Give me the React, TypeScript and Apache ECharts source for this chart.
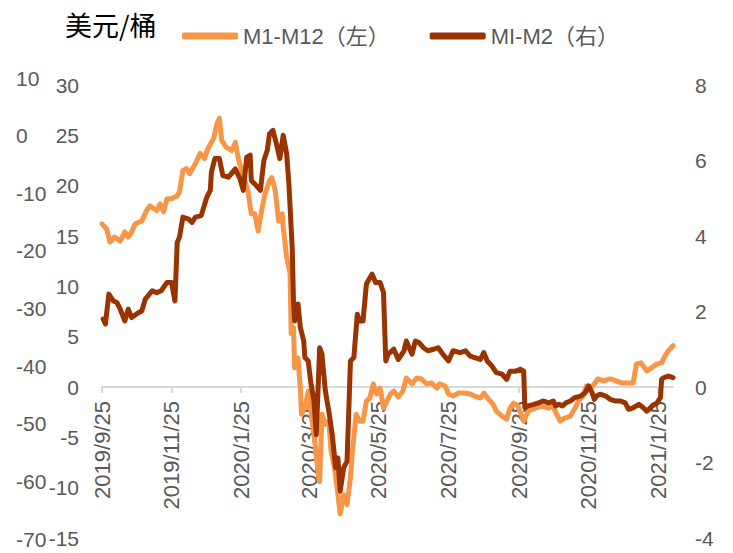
import React, { useEffect, useRef } from "react";
import * as echarts from "echarts";

const START_DATE = "2019-09-25";
const END_DATE = "2021-02-07";
const tickLabels = ["2019/9/25", "2019/11/25", "2020/1/25", "2020/3/25", "2020/5/25", "2020/7/25", "2020/9/25", "2020/11/25", "2021/1/25"];

const m1m12Dates = [
  "2019-09-25","2019-09-29","2019-10-02","2019-10-06","2019-10-11","2019-10-15","2019-10-18","2019-10-21","2019-10-24","2019-10-30",
  "2019-11-03","2019-11-06","2019-11-12","2019-11-15","2019-11-18","2019-11-21","2019-11-25","2019-11-30","2019-12-02","2019-12-05",
  "2019-12-08","2019-12-11","2019-12-16","2019-12-20","2019-12-24","2019-12-27","2020-01-01","2020-01-04","2020-01-06","2020-01-08",
  "2020-01-12","2020-01-17","2020-01-20","2020-01-23","2020-01-27","2020-01-31","2020-02-03","2020-02-06","2020-02-09","2020-02-12",
  "2020-02-15","2020-02-19","2020-02-21","2020-02-24","2020-02-27","2020-03-01","2020-03-02","2020-03-05","2020-03-08","2020-03-09",
  "2020-03-11","2020-03-12","2020-03-15","2020-03-17","2020-03-18","2020-03-21","2020-03-24","2020-03-27","2020-03-30","2020-04-02",
  "2020-04-03","2020-04-05","2020-04-08","2020-04-11","2020-04-13","2020-04-16","2020-04-19","2020-04-21","2020-04-24","2020-04-27",
  "2020-04-30","2020-05-02","2020-05-05","2020-05-08","2020-05-11","2020-05-14","2020-05-17","2020-05-20","2020-05-23","2020-05-26",
  "2020-05-29","2020-06-01","2020-06-04","2020-06-07","2020-06-11","2020-06-15","2020-06-18","2020-06-23","2020-06-27","2020-07-01",
  "2020-07-06","2020-07-10","2020-07-15","2020-07-17","2020-07-22","2020-07-25","2020-07-29","2020-08-03","2020-08-08","2020-08-13",
  "2020-08-17","2020-08-22","2020-08-25","2020-08-29","2020-09-02","2020-09-05","2020-09-10","2020-09-14","2020-09-17","2020-09-20",
  "2020-09-24","2020-09-29","2020-10-03","2020-10-09","2020-10-15","2020-10-21","2020-10-23","2020-10-28","2020-10-31","2020-11-04",
  "2020-11-09","2020-11-13","2020-11-16","2020-11-20","2020-11-23","2020-11-26","2020-11-30","2020-12-03","2020-12-08","2020-12-14",
  "2020-12-19","2020-12-24","2020-12-30","2021-01-03","2021-01-06","2021-01-10","2021-01-15","2021-01-19","2021-01-24","2021-01-28",
  "2021-01-31","2021-02-03","2021-02-07"
];
const m1m12Values = [
  16.2,15.7,14.4,14.9,14.5,15.4,14.9,15.4,16.2,16.5,
  17.5,18.0,17.5,18.2,17.4,18.7,18.7,19.0,19.4,21.5,
  21.7,21.2,22.2,23.2,22.7,23.7,24.7,26.2,26.7,24.5,
  23.8,23.5,24.3,22.5,21.0,19.5,17.2,17.2,15.5,17.5,
  19.2,20.5,20.8,19.5,16.5,17.2,15.9,12.9,11.3,5.3,
  5.9,1.9,2.9,-0.1,-2.7,-2.1,-0.4,-3.1,-5.7,-9.0,
  -9.4,-2.7,-3.7,-3.4,-6.4,-8.0,-10.7,-12.6,-10.7,-11.7,
  -9.0,-6.0,-2.7,-3.4,-3.4,-1.4,-1.1,0.3,-0.7,-0.1,
  -2.1,-1.4,-0.7,-0.4,-1.0,-0.4,0.9,0.3,0.9,0.8,
  0.3,0.4,-0.1,0.3,0.1,-0.7,-0.9,-0.6,-0.6,-0.7,
  -0.9,-1.1,-0.6,-1.2,-1.7,-2.4,-2.9,-3.2,-2.1,-1.6,
  -1.9,-3.4,-2.4,-2.1,-1.9,-2.1,-1.6,-2.7,-3.4,-3.1,
  -2.9,-2.1,-1.4,-0.9,0.1,-0.2,0.3,0.8,0.6,0.8,
  0.6,0.4,0.4,0.4,2.3,2.4,1.6,1.9,2.3,2.4,
  3.1,3.6,4.1
];

const mim2Dates = [
  "2019-09-26","2019-09-28","2019-10-01","2019-10-05","2019-10-08","2019-10-11","2019-10-15","2019-10-18","2019-10-21","2019-10-25",
  "2019-10-30","2019-11-02","2019-11-08","2019-11-12","2019-11-16","2019-11-21","2019-11-25","2019-11-28","2019-11-30","2019-12-02",
  "2019-12-05","2019-12-10","2019-12-13","2019-12-16","2019-12-21","2019-12-26","2019-12-29","2019-12-30","2020-01-02","2020-01-06",
  "2020-01-09","2020-01-14","2020-01-20","2020-01-24","2020-01-27","2020-01-30","2020-02-02","2020-02-03","2020-02-06","2020-02-11",
  "2020-02-14","2020-02-17","2020-02-19","2020-02-22","2020-02-25","2020-02-28","2020-03-02","2020-03-05","2020-03-07","2020-03-10",
  "2020-03-11","2020-03-12","2020-03-15","2020-03-17","2020-03-20","2020-03-21","2020-03-24","2020-03-26","2020-03-29","2020-03-31",
  "2020-04-03","2020-04-05","2020-04-08","2020-04-11","2020-04-14","2020-04-17","2020-04-19","2020-04-21","2020-04-24","2020-04-27",
  "2020-04-30","2020-05-03","2020-05-06","2020-05-08","2020-05-11","2020-05-14","2020-05-19","2020-05-22","2020-05-26","2020-05-29",
  "2020-05-31","2020-06-02","2020-06-07","2020-06-11","2020-06-16","2020-06-18","2020-06-23","2020-06-26","2020-06-29","2020-07-03",
  "2020-07-07","2020-07-12","2020-07-16","2020-07-20","2020-07-25","2020-07-29","2020-08-04","2020-08-09","2020-08-13","2020-08-17",
  "2020-08-22","2020-08-25","2020-08-28","2020-09-01","2020-09-05","2020-09-10","2020-09-14","2020-09-17","2020-09-22","2020-09-26",
  "2020-09-29","2020-09-30","2020-10-03","2020-10-08","2020-10-12","2020-10-16","2020-10-21","2020-10-25","2020-10-27","2020-10-30",
  "2020-11-02","2020-11-05","2020-11-09","2020-11-13","2020-11-18","2020-11-22","2020-11-25","2020-11-28","2020-11-30","2020-12-02",
  "2020-12-05","2020-12-10","2020-12-14","2020-12-18","2020-12-23","2020-12-27","2020-12-30","2021-01-03","2021-01-08","2021-01-12",
  "2021-01-15","2021-01-20","2021-01-24","2021-01-27","2021-01-28","2021-01-30","2021-02-03","2021-02-07"
];
const mim2Values = [
  1.80,1.67,2.46,2.28,2.24,2.06,1.75,2.06,1.84,1.93,
  2.02,2.33,2.55,2.50,2.55,2.77,2.77,2.28,3.83,3.97,
  4.50,4.45,4.36,4.50,4.54,5.03,5.21,5.69,6.05,6.05,
  5.60,5.56,5.78,5.52,5.21,6.09,6.14,5.47,5.38,5.21,
  6.00,6.27,6.71,6.80,6.45,6.05,6.67,6.18,5.38,3.61,
  2.28,1.75,2.20,1.58,1.22,0.78,0.69,0.16,-0.37,-1.26,
  1.04,0.87,-0.11,-0.64,-1.26,-2.14,-1.88,-2.76,-2.14,-1.97,
  0.69,0.78,1.93,1.75,1.75,2.73,2.99,2.77,2.77,2.50,
  0.69,0.87,1.00,0.73,0.96,1.22,0.87,1.22,1.18,1.04,
  0.96,1.00,1.04,0.87,0.69,0.96,0.91,0.96,0.82,0.78,
  0.73,0.91,0.69,0.56,0.38,0.34,0.20,0.42,0.42,0.47,
  0.42,-0.55,-0.50,-0.46,-0.42,-0.37,-0.42,-0.37,-0.50,-0.46,
  -0.50,-0.42,-0.37,-0.28,-0.24,-0.15,0.03,-0.15,-0.33,-0.24,
  -0.19,-0.24,-0.33,-0.37,-0.37,-0.42,-0.59,-0.55,-0.46,-0.55,
  -0.64,-0.50,-0.42,-0.28,0.20,0.25,0.29,0.25
];

const TITLE = "美元/桶";
const SERIES_LEFT = "M1-M12（左）";
const SERIES_RIGHT = "MI-M2（右）";

const ORANGE = "#F79646";
const BROWN = "#993300";
const LABEL_COLOR = "#595959";
const FONT = "'Liberation Sans', 'Noto Sans CJK SC', sans-serif";

function buildDays(start: string, end: string): string[] {
  const out: string[] = [];
  const [sy, sm, sd] = start.split("-").map(Number);
  const [ey, em, ed] = end.split("-").map(Number);
  let t = Date.UTC(sy, sm - 1, sd);
  const te = Date.UTC(ey, em - 1, ed);
  while (t <= te) {
    const d = new Date(t);
    const s = `${d.getUTCFullYear()}-${String(d.getUTCMonth() + 1).padStart(2, "0")}-${String(d.getUTCDate()).padStart(2, "0")}`;
    out.push(s);
    t += 86400000;
  }
  return out;
}

function fmtDate(v: string): string {
  const [y, m, d] = v.split("-").map(Number);
  return `${y}/${m}/${d}`;
}

const hiddenAxis = {
  axisLine: { show: false },
  axisTick: { show: false },
  splitLine: { show: false },
};

export default function App() {
  const ref = useRef<HTMLDivElement>(null);
  useEffect(() => {
    if (!ref.current) return;
    const chart = echarts.init(ref.current, null, { renderer: "svg" });
    const days = buildDays(START_DATE, END_DATE);
    const tickSet = new Set(tickLabels);
    const labelInterval = (_i: number, v: string) => tickSet.has(fmtDate(v));
    chart.setOption({
      animation: false,
      backgroundColor: "#ffffff",
      title: {
        text: TITLE,
        left: 60,
        top: 6,
        textStyle: { fontSize: 27, fontWeight: "normal", color: "#000000", fontFamily: "'Noto Sans CJK SC', sans-serif" },
      },
      legend: {
        left: 177,
        top: 20,
        itemWidth: 56,
        itemHeight: 7,
        itemGap: 40,
        icon: "roundRect",
        textStyle: { fontSize: 22, color: LABEL_COLOR, fontFamily: FONT },
        data: [SERIES_LEFT, SERIES_RIGHT],
      },
      grid: [
        { left: 102, right: 60, top: 85, bottom: 166, containLabel: false, outerBoundsMode: "none" },
        { left: 102, right: 60, top: 85, bottom: 15, containLabel: false, outerBoundsMode: "none" },
        { left: 102, right: 60, top: 78, bottom: 14, containLabel: false, outerBoundsMode: "none" },
      ],
      xAxis: [
        {
          type: "category",
          gridIndex: 0,
          data: days,
          boundaryGap: false,
          axisLine: { onZero: false, lineStyle: { color: "#D9D9D9", width: 2 } },
          axisTick: { show: true, length: 6, lineStyle: { color: "#D9D9D9", width: 2 } },
          axisLabel: {
            interval: labelInterval,
            rotate: 90,
            margin: 14,
            formatter: (v: string) => fmtDate(v),
            fontSize: 22,
            color: LABEL_COLOR,
            fontFamily: FONT,
          },
          splitLine: { show: false },
        },
        { type: "value", gridIndex: 1, show: false, min: 0, max: 1 },
        { type: "value", gridIndex: 2, show: false, min: 0, max: 1 },
      ],
      yAxis: [
        { type: "value", gridIndex: 0, position: "left", min: 0, max: 30, show: false },
        { type: "value", gridIndex: 0, position: "right", min: 0, max: 8, show: false },
        {
          type: "value",
          gridIndex: 1,
          position: "left",
          min: -15,
          max: 30,
          interval: 5,
          ...hiddenAxis,
          axisLabel: { margin: 23, fontSize: 21, color: LABEL_COLOR, fontFamily: FONT },
        },
        {
          type: "value",
          gridIndex: 1,
          position: "right",
          min: -4,
          max: 8,
          interval: 2,
          ...hiddenAxis,
          axisLabel: { margin: 22, fontSize: 21, color: LABEL_COLOR, fontFamily: FONT },
        },
        {
          type: "value",
          gridIndex: 2,
          position: "left",
          min: -70,
          max: 10,
          interval: 10,
          ...hiddenAxis,
          axisLabel: { margin: 86, align: "left", fontSize: 21, color: LABEL_COLOR, fontFamily: FONT },
        },
      ],
      series: [
        {
          name: SERIES_LEFT,
          type: "line",
          xAxisIndex: 0,
          yAxisIndex: 0,
          clip: false,
          z: 3,
          showSymbol: false,
          symbol: "none",
          color: ORANGE,
          lineStyle: { width: 5, color: ORANGE, cap: "round", join: "round" },
          data: m1m12Dates.map((d, i) => [d, m1m12Values[i]]),
        },
        {
          name: SERIES_RIGHT,
          type: "line",
          xAxisIndex: 0,
          yAxisIndex: 1,
          clip: false,
          z: 4,
          showSymbol: false,
          symbol: "none",
          color: BROWN,
          lineStyle: { width: 5, color: BROWN, cap: "round", join: "round" },
          data: mim2Dates.map((d, i) => [d, mim2Values[i]]),
        },
      ],
    });
    return () => chart.dispose();
  }, []);
  return (
    <div
      ref={ref}
      style={{ position: "fixed", left: 0, top: 0, width: 733, height: 553, background: "#fff" }}
    />
  );
}
